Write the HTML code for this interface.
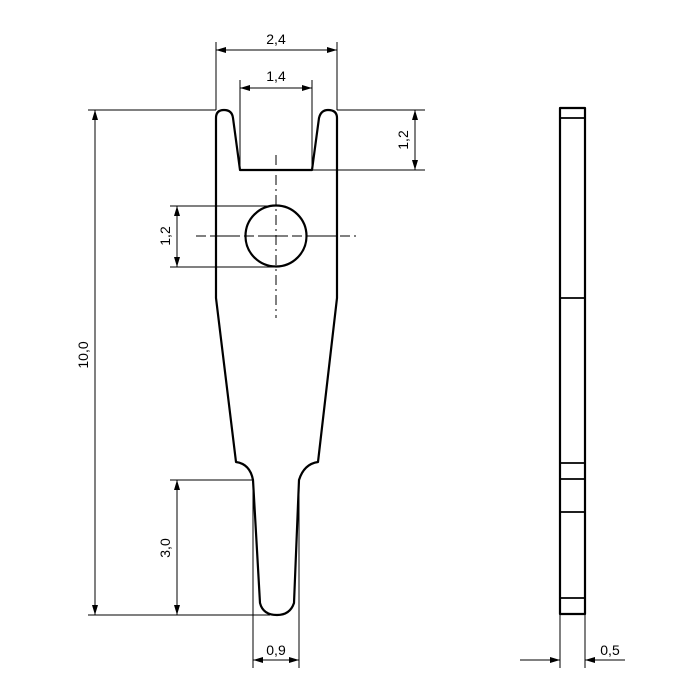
<!DOCTYPE html>
<html><head><meta charset="utf-8"><style>body{margin:0;background:#fff}svg{display:block}</style></head><body>
<svg width="700" height="700" viewBox="0 0 700 700" xmlns="http://www.w3.org/2000/svg" font-family="Liberation Sans, sans-serif" font-size="14">
<defs>
<marker id="a" viewBox="0 0 10 6" refX="10" refY="3" markerWidth="10" markerHeight="6" orient="auto-start-reverse" markerUnits="userSpaceOnUse"><path d="M0,0L10,3L0,6z" fill="#000"/></marker>
</defs>
<g fill="none" stroke="#000" stroke-width="2.2" stroke-linejoin="round">
<path d="M216,298 L216,118 Q216,110 224,110 Q232,110 233,118 L240,170 L312,170 L319,118 Q321,110 328,110 Q337,110 337,118 L337,298 L318,462 Q304,464 299,480 L294,603 Q290,615 277,615 Q263,615 260,603 L253,480 Q250,464 236,462 Z"/>
<circle cx="276" cy="236" r="30.5"/>
<rect x="560" y="108" width="25" height="506"/>
</g>
<g stroke="#000" stroke-width="1.8">
<line x1="560" y1="118" x2="585" y2="118"/>
<line x1="560" y1="298" x2="585" y2="298"/>
<line x1="560" y1="463" x2="585" y2="463"/>
<line x1="560" y1="479" x2="585" y2="479"/>
<line x1="560" y1="512" x2="585" y2="512"/>
<line x1="560" y1="598" x2="585" y2="598"/>
</g>
<g stroke="#000" stroke-width="1" fill="none">
<line x1="276" y1="155" x2="276" y2="318" stroke-dasharray="10,4,2,4"/>
<line x1="196" y1="236" x2="356" y2="236" stroke-dasharray="10,4,30,4"/>
<!-- extension lines -->
<line x1="216" y1="42" x2="216" y2="110"/>
<line x1="337" y1="42" x2="337" y2="110"/>
<line x1="240" y1="80" x2="240" y2="170"/>
<line x1="312" y1="80" x2="312" y2="170"/>
<line x1="337" y1="110" x2="425" y2="110"/>
<line x1="312" y1="170" x2="425" y2="170"/>
<line x1="170" y1="206" x2="276" y2="206"/>
<line x1="170" y1="267" x2="276" y2="267"/>
<line x1="88" y1="110" x2="216" y2="110"/>
<line x1="88" y1="615" x2="270" y2="615"/>
<line x1="170" y1="480" x2="253" y2="480"/>
<line x1="253" y1="480" x2="253" y2="668"/>
<line x1="299" y1="480" x2="299" y2="668"/>
<line x1="560" y1="614" x2="560" y2="668"/>
<line x1="585" y1="614" x2="585" y2="668"/>
<!-- dim lines -->
<line x1="216" y1="50" x2="337" y2="50" marker-start="url(#a)" marker-end="url(#a)"/>
<line x1="240" y1="88" x2="312" y2="88" marker-start="url(#a)" marker-end="url(#a)"/>
<line x1="415" y1="110" x2="415" y2="170" marker-start="url(#a)" marker-end="url(#a)"/>
<line x1="177" y1="206" x2="177" y2="267" marker-start="url(#a)" marker-end="url(#a)"/>
<line x1="95" y1="110" x2="95" y2="615" marker-start="url(#a)" marker-end="url(#a)"/>
<line x1="177" y1="480" x2="177" y2="615" marker-start="url(#a)" marker-end="url(#a)"/>
<line x1="253" y1="660" x2="299" y2="660" marker-start="url(#a)" marker-end="url(#a)"/>
<line x1="520" y1="660" x2="560" y2="660" marker-end="url(#a)"/>
<line x1="625" y1="660" x2="585" y2="660" marker-end="url(#a)"/>
</g>
<g fill="#000" text-anchor="middle">
<text x="276" y="44">2,4</text>
<text x="276" y="81">1,4</text>
<text x="276" y="655">0,9</text>
<text x="610" y="655">0,5</text>
<text transform="translate(408,140) rotate(-90)">1,2</text>
<text transform="translate(170,236) rotate(-90)">1,2</text>
<text transform="translate(88,355) rotate(-90)">10,0</text>
<text transform="translate(170,548) rotate(-90)">3,0</text>
</g>
</svg>
</body></html>
